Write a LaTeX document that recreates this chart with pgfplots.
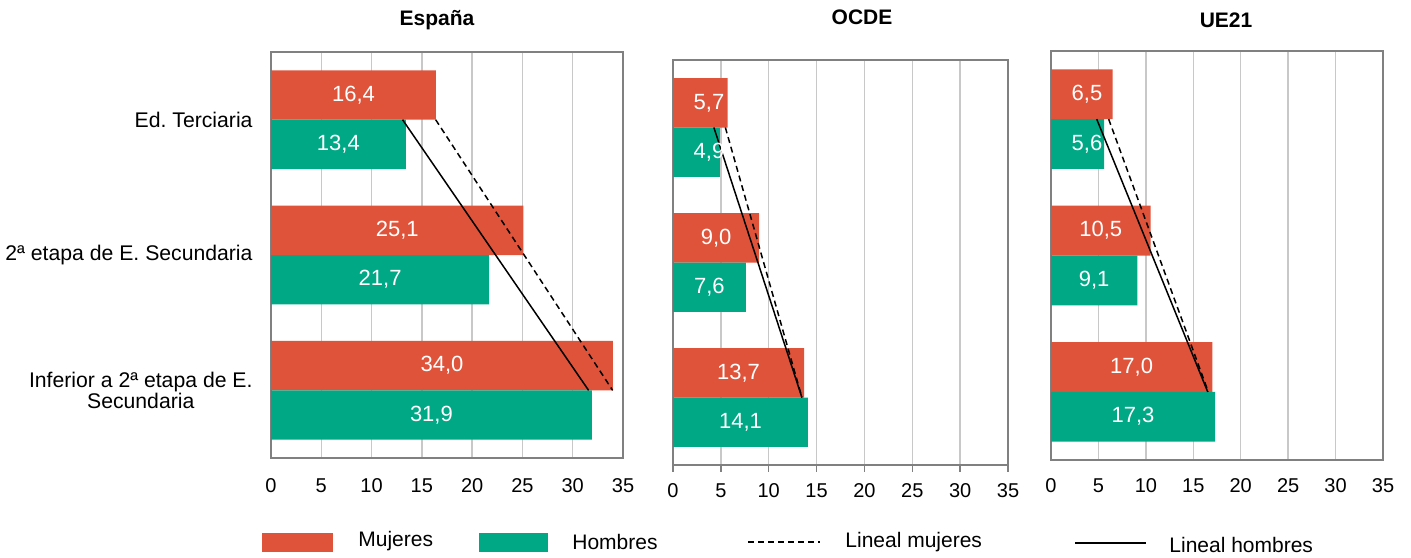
\documentclass[border=0pt]{standalone}
\usepackage{pgfplots}
\pgfplotsset{compat=1.18}
\usepackage{fontspec}
\setmainfont{Liberation Sans}
\frenchspacing
\definecolor{mujer}{HTML}{DF533A}
\definecolor{hombre}{HTML}{00A886}
\definecolor{framec}{HTML}{808080}
\definecolor{gridc}{HTML}{C8C8C8}
\tikzset{
  trendm/.style={black, line width=0.75pt, dash pattern=on 3pt off 2pt},
  trendh/.style={black, line width=0.75pt},
}
\pgfplotsset{
  panel/.style={
    scale only axis,
    anchor=north west,
    xmin=0, xmax=35, ymin=0.5, ymax=3.5,
    y dir=reverse,
    enlargelimits=false,
    xtick={0,5,...,35},
    ytick=\empty,
    xmajorgrids,
    major grid style={gridc, line width=0.75pt},
    axis line style={framec, line width=0.75pt},
    tick style={framec, line width=0.75pt},
    major tick length=0pt,
    /pgf/number format/assume math mode=true,
    ticklabel style={font=\fontsize{10}{12}\selectfont},
    clip=false,
  },
  mbar/.style={xbar, bar width=0.365, bar shift=-0.1825, fill=mujer, draw=none},
  hbar/.style={xbar, bar width=0.365, bar shift=0.1825, fill=hombre, draw=none},
  blabel/.style n args={3}{
    point meta=x,
    nodes near coords={\pgfmathprintnumber[fixed,fixed zerofill,precision=1,use comma,assume math mode=true]{\pgfplotspointmeta}},
    visualization depends on={x \as \rawx},
    nodes near coords style={anchor=center, text=white, font=\fontsize{11}{13}\selectfont, inner sep=0pt,
       xshift={((max(\rawx/2,#1)-\rawx)*#2)*1pt}, yshift=#3},
  },
}
\begin{document}
\begin{tikzpicture}
\path[use as bounding box] (0,0) rectangle (705.5pt,-278.5pt);

% ---------- España ----------
\begin{axis}[panel, at={(135.5pt,-26pt)}, width=176pt, height=203pt,
  ytick={1,2,3},
  yticklabels={Ed. Terciaria, 2ª etapa de E. Secundaria, {Inferior a 2ª etapa de E.\\Secundaria}},
  yticklabel style={align=center, font=\fontsize{10.6}{10.5}\selectfont, xshift=-5.7pt},
  xticklabel style={yshift=-6.6pt}]
\addplot[mbar, blabel={1.79}{5.0286}{12.35pt}] coordinates {(16.4,1) (25.1,2) (34.0,3)};
\addplot[hbar, blabel={1.79}{5.0286}{-12.35pt}] coordinates {(13.4,1) (21.7,2) (31.9,3)};
\addplot[trendm] coordinates {(16.37,1) (33.97,3)};
\addplot[trendh] coordinates {(13.08,1) (31.58,3)};
\end{axis}

% ---------- OCDE ----------
\begin{axis}[panel, at={(336.5pt,-30pt)}, width=167.5pt, height=202.5pt,
  major tick length=3.5pt, tick align=outside, xtick pos=left,
  xticklabel style={yshift=-2.2pt}]
\addplot[mbar, blabel={3.76}{4.7857}{12.32pt}] coordinates {(5.7,1) (9.0,2) (13.7,3)};
\addplot[hbar, blabel={3.76}{4.7857}{-12.32pt}] coordinates {(4.9,1) (7.6,2) (14.1,3)};
\addplot[trendm] coordinates {(5.47,1) (13.47,3)};
\addplot[trendh] coordinates {(4.27,1) (13.47,3)};
\end{axis}

% ---------- UE21 ----------
\begin{axis}[panel, at={(525.5pt,-25.5pt)}, width=166pt, height=204.5pt,
  xticklabel style={yshift=-5.7pt}]
\addplot[mbar, blabel={3.795}{4.743}{12.44pt}] coordinates {(6.5,1) (10.5,2) (17.0,3)};
\addplot[hbar, blabel={3.795}{4.743}{-12.44pt}] coordinates {(5.6,1) (9.1,2) (17.3,3)};
\addplot[trendm] coordinates {(6.08,1) (16.58,3)};
\addplot[trendh] coordinates {(4.82,1) (16.52,3)};
\end{axis}

% titles
\node[font=\fontsize{10.5}{12}\selectfont\bfseries] at (218.5pt,-10pt) {España};
\node[font=\fontsize{10.5}{12}\selectfont\bfseries] at (431pt,-8.5pt) {OCDE};
\node[font=\fontsize{10.5}{12}\selectfont\bfseries] at (613pt,-10pt) {UE21};

% legend
\begin{scope}[every node/.style={anchor=west, inner sep=0pt, font=\fontsize{10.5}{12}\selectfont}]
\fill[mujer] (131pt,-266.5pt) rectangle (166.5pt,-276pt);
\node at (179pt,-270.5pt) {Mujeres};
\fill[hombre] (239.5pt,-266.5pt) rectangle (274pt,-276pt);
\node at (286pt,-271pt) {Hombres};
\draw[trendm] (374pt,-271pt) -- (410pt,-271pt);
\node at (422.5pt,-271pt) {Lineal mujeres};
\draw[trendh] (537.5pt,-271.5pt) -- (573pt,-271.5pt);
\node at (584.5pt,-272.5pt) {Lineal hombres};
\end{scope}
\end{tikzpicture}
\end{document}
